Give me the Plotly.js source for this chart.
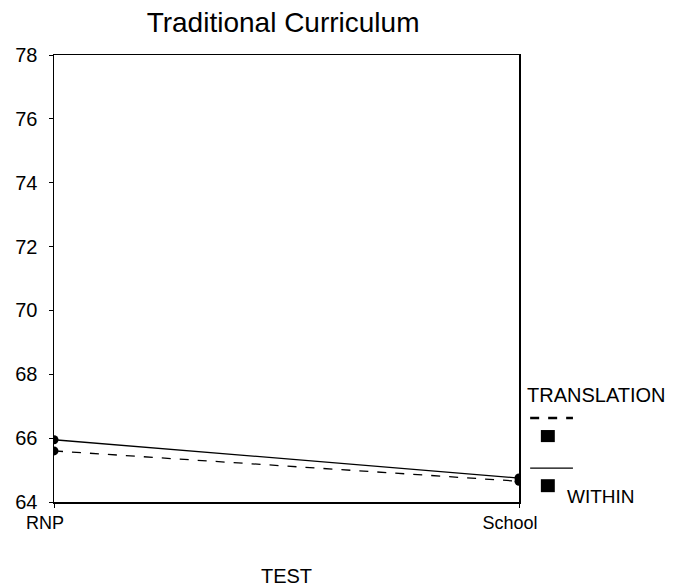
<!DOCTYPE html>
<html>
<head>
<script src="https://cdn.plot.ly/plotly-3.0.1.min.js"></script>
<style>body{margin:0;background:#fff;} #chart{width:674px;height:587px;}</style>
</head>
<body>
<div id="chart"></div>
<script>
var categories = ["RNP", "School"];
var withinValues = [65.95, 64.75];
var translationValues = [65.6, 64.65];
var yTicks = [64, 66, 68, 70, 72, 74, 76, 78];

var xPos = categories.map(function (c, i) { return i; });

var traces = [
  {
    x: xPos, y: withinValues, mode: "lines+markers", name: "WITHIN",
    line: {color: "#000", width: 1.3, dash: "solid"},
    marker: {color: "#000", size: 9, symbol: "circle"}
  },
  {
    x: xPos, y: translationValues, mode: "lines+markers", name: "TRANSLATION",
    line: {color: "#000", width: 1.3, dash: "dash"},
    marker: {color: "#000", size: 9, symbol: "circle"}
  }
];

var font = "Liberation Sans, Arial, sans-serif";

var layout = {
  width: 674, height: 587,
  margin: {l: 54, r: 155, t: 55, b: 85},
  paper_bgcolor: "#fff", plot_bgcolor: "#fff",
  showlegend: false,
  font: {family: font, color: "#000", size: 18},
  title: {text: "Traditional Curriculum", font: {family: font, size: 28, color: "#000"}, x: 0.42, xanchor: "center", y: 0.9625, yanchor: "middle"},
  xaxis: {
    range: [0, 1], tickvals: xPos, ticktext: categories,
    showgrid: false, zeroline: false, showline: true, linecolor: "#000", linewidth: 1.5,
    mirror: true, ticks: "outside", ticklen: 4, tickcolor: "#000",
    ticklabelshift: -9,
    tickfont: {family: font, size: 18}, fixedrange: true,
    title: {text: "TEST", font: {family: font, size: 20}, standoff: 40}
  },
  yaxis: {
    range: [64, 78], tickvals: yTicks,
    showgrid: false, zeroline: false, showline: true, linecolor: "#000", linewidth: 1.5,
    mirror: true, ticks: "outside", ticklen: 4, tickcolor: "#000",
    ticklabelstandoff: 7,
    tickfont: {family: font, size: 20}
  },
  shapes: [
    {type: "line", xref: "paper", yref: "paper", x0: 1.024, x1: 1.116, y0: 0.188, y1: 0.188, line: {color: "#000", width: 2.5, dash: "dash"}},
    {type: "rect", xref: "paper", yref: "paper", x0: 1.047, x1: 1.077, y0: 0.134, y1: 0.161, fillcolor: "#000", line: {width: 0}},
    {type: "line", xref: "paper", yref: "paper", x0: 1.024, x1: 1.116, y0: 0.076, y1: 0.076, line: {color: "#000", width: 1.3}},
    {type: "rect", xref: "paper", yref: "paper", x0: 1.047, x1: 1.077, y0: 0.022, y1: 0.051, fillcolor: "#000", line: {width: 0}}
  ],
  annotations: [
    {text: "TRANSLATION", xref: "paper", yref: "paper", x: 1.013, y: 0.239, xanchor: "left", yanchor: "middle", showarrow: false, font: {family: font, size: 20}},
    {text: "WITHIN", xref: "paper", yref: "paper", x: 1.099, y: 0.013, xanchor: "left", yanchor: "middle", showarrow: false, font: {family: font, size: 19}}
  ]
};

Plotly.newPlot("chart", traces, layout, {displayModeBar: false, staticPlot: true});
</script>
</body>
</html>
